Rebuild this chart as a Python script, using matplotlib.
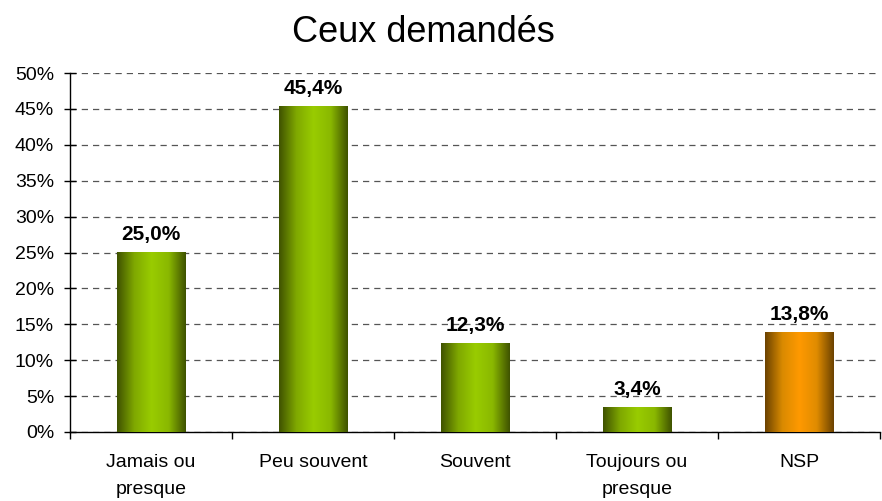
import matplotlib
matplotlib.use("Agg")
import matplotlib.pyplot as plt
import numpy as np
from matplotlib.colors import LinearSegmentedColormap

plt.rcParams['font.family'] = ['Liberation Sans', 'DejaVu Sans']

categories = ["Jamais ou\npresque", "Peu souvent", "Souvent", "Toujours ou\npresque", "NSP"]
values = [25.0, 45.4, 12.3, 3.4, 13.8]
labels = ["25,0%", "45,4%", "12,3%", "3,4%", "13,8%"]
bar_kind = ["green", "green", "green", "green", "orange"]

cmaps = {
    "green": LinearSegmentedColormap.from_list("g", ["#3f5200", "#7fa800", "#99cc00", "#8ab800", "#3f5200"]),
    "orange": LinearSegmentedColormap.from_list("o", ["#6b4200", "#d98a00", "#ff9900", "#e08c00", "#6b4200"]),
}

fig = plt.figure(figsize=(8.82, 5.01), dpi=100)
ax = fig.add_axes([70/882, (501-432)/501, 810/882, (432-73)/501])

n = len(categories)
x = np.arange(n)
width = 0.42
grad = np.linspace(0, 1, 256).reshape(1, -1)
for i, (v, k) in enumerate(zip(values, bar_kind)):
    ax.imshow(grad, cmap=cmaps[k], aspect='auto', extent=(x[i]-width/2, x[i]+width/2, 0, v), zorder=3, interpolation='bilinear')
    ax.text(x[i], v + 2.5, labels[i], ha='center', va='center', fontsize=15, fontweight='bold', zorder=4)

ax.set_xlim(-0.5, n-0.5)
ax.set_ylim(0, 50)
ax.set_yticks(np.arange(0, 51, 5))
ax.set_yticklabels([f"{t}%" for t in range(0, 51, 5)], fontsize=14)
ax.yaxis.grid(True, linestyle=(0, (5, 4)), color='#555555', linewidth=0.9, zorder=0)
ax.set_axisbelow(True)
ax.tick_params(axis='y', direction='inout', length=9, width=1, pad=7)

ax.set_xticks(np.arange(-0.5, n, 1.0))
ax.set_xticklabels([])
ax.set_xticks(x, minor=True)
ax.set_xticklabels(categories, minor=True, fontsize=14, linespacing=1.75)
ax.tick_params(axis='x', which='major', direction='out', length=5, width=1)
ax.tick_params(axis='x', which='minor', length=0, pad=16)

for s in ['top', 'right']:
    ax.spines[s].set_visible(False)
ax.spines['left'].set_linewidth(1)
ax.spines['bottom'].set_linewidth(1)

fig.text(423/882, 1 - 33/501, "Ceux demandés", ha='center', va='center', fontsize=26)

fig.savefig("out.png", dpi=100)
